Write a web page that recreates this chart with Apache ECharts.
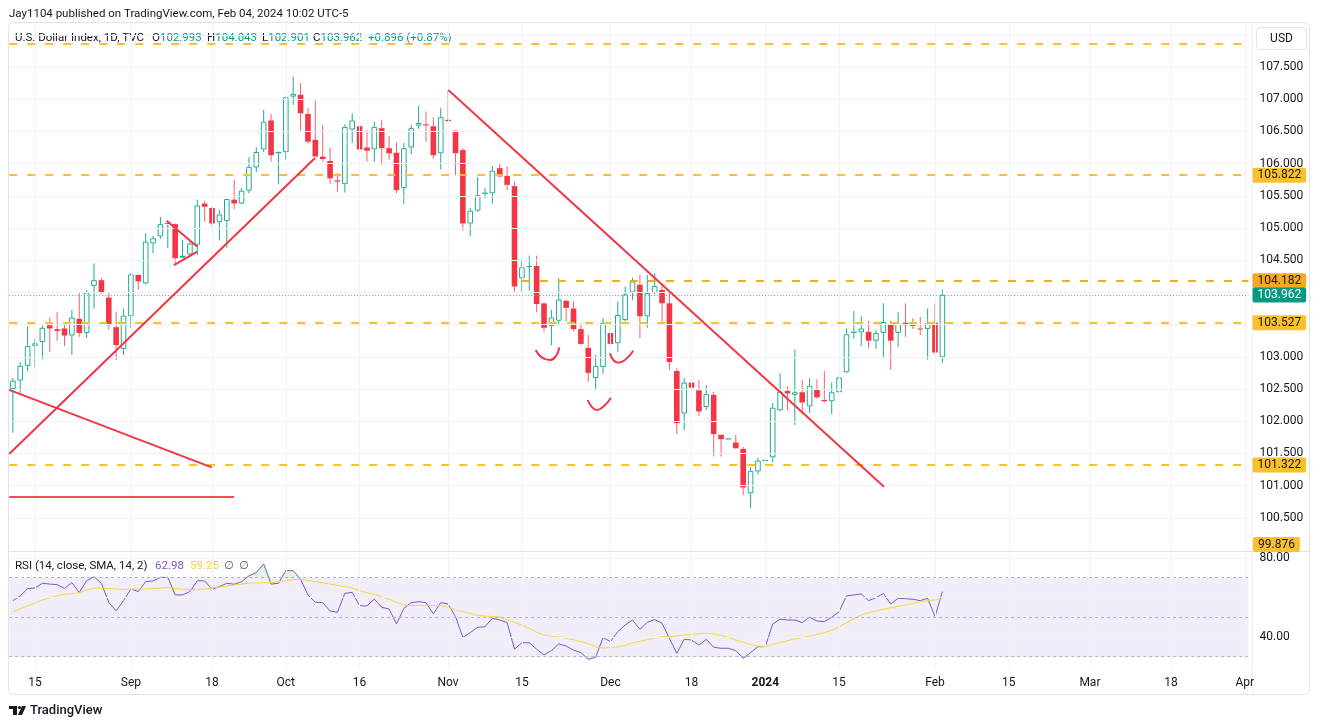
<!DOCTYPE html>
<html>
<head>
<meta charset="utf-8">
<script src="https://cdn.jsdelivr.net/npm/echarts@6/dist/echarts.min.js"></script>
<style>html,body{margin:0;padding:0;background:#fff}#c{width:1320px;height:725px}</style>
</head>
<body>
<div id="c"></div>
<script>
// ---------------- DATA ----------------
// daily candles, consecutive weekdays starting 2023-08-10 (last = 2024-02-02)
const firstDate = '2023-08-10';
const lastCalendarDate = '2024-04-01';
const opens = [
102.50,102.63,102.86,103.17,103.23,103.49,103.40,103.44,103.33,103.59,
103.37,104.10,104.19,103.92,103.46,103.12,103.63,104.27,104.14,104.76,
104.87,105.05,105.06,104.57,104.59,104.74,105.38,105.31,105.09,105.11,
105.44,105.38,105.58,105.94,106.22,106.67,106.18,106.18,107.04,107.07,
106.77,106.37,106.11,106.04,105.74,105.68,106.53,106.58,106.25,106.22,
106.55,106.24,106.17,105.62,106.25,106.59,106.58,106.58,106.16,106.66,
106.51,106.21,105.07,105.27,105.55,105.54,105.93,105.81,105.65,104.22,
104.41,104.41,103.83,103.48,103.56,103.87,103.75,103.43,103.14,102.67,
102.84,103.37,103.21,103.57,104.00,104.12,103.63,103.99,104.04,103.83,
102.78,102.12,102.60,102.48,102.22,102.41,101.79,101.725,101.67,101.57,
100.88,101.22,101.39,101.44,102.17,102.47,102.41,102.45,102.23,102.50,
102.33,102.31,102.45,102.76,103.39,103.38,103.39,103.25,103.37,103.51,
103.37,103.53,103.50,103.44,103.43,103.53,102.993];
const highs = [
102.67,102.92,103.47,103.28,103.49,103.61,103.69,103.52,103.73,103.99,
104.04,104.45,104.22,103.99,103.70,103.75,104.30,104.28,104.92,104.88,
105.17,105.08,105.07,104.81,104.81,105.44,105.42,105.33,105.28,105.45,
105.75,105.62,106.10,106.25,106.83,106.77,106.19,107.03,107.35,107.25,
106.86,106.98,106.60,106.25,105.85,106.61,106.78,106.63,106.52,106.65,
106.68,106.43,106.33,106.32,106.60,106.90,106.81,106.72,106.86,107.14,
106.52,106.24,105.31,105.79,105.62,105.96,106.00,105.96,105.72,104.51,
104.57,104.57,103.84,103.73,104.22,103.88,103.86,103.52,103.34,103.03,
103.60,103.74,103.86,104.09,104.23,104.27,104.27,104.30,104.12,103.99,
102.82,102.67,102.63,102.64,102.56,102.46,101.79,101.725,101.79,101.60,
101.29,101.43,101.39,102.28,102.74,102.54,103.11,102.64,102.67,102.65,
102.78,102.60,102.69,103.44,103.71,103.63,103.56,103.41,103.83,103.56,
103.69,103.83,103.60,103.62,103.75,103.83,104.043];
const lows = [
101.82,102.44,102.78,102.84,102.96,103.08,103.25,103.17,103.03,103.31,
103.29,103.75,103.98,103.42,102.95,103.03,103.45,104.04,104.12,104.61,
104.83,104.69,104.43,104.53,104.55,104.58,105.10,105.02,104.81,104.69,
105.29,105.37,105.54,105.87,106.18,106.03,105.68,106.06,106.91,106.51,
106.31,106.10,106.03,105.68,105.56,105.55,106.32,106.20,106.03,106.03,
105.98,106.06,105.54,105.37,106.15,106.54,106.34,106.08,105.91,106.64,
105.82,104.96,104.87,105.25,105.46,105.38,105.79,105.59,104.01,104.00,
104.03,103.69,103.39,103.18,103.49,103.55,103.40,103.19,102.61,102.48,
102.74,103.10,103.08,103.55,103.88,103.29,103.45,103.97,103.52,102.80,
101.80,101.86,102.39,102.08,102.17,101.45,101.45,101.725,101.57,100.85,
100.65,101.17,101.39,101.36,102.15,102.17,101.94,102.10,102.13,102.35,
102.29,102.11,102.43,102.75,103.28,103.17,103.13,103.12,103.00,102.80,
103.15,103.31,103.43,103.34,102.96,103.04,102.901];
const closes = [
102.63,102.86,103.17,103.21,103.45,103.44,103.43,103.33,103.61,103.37,
104.00,104.19,103.99,103.49,103.18,103.64,104.28,104.17,104.79,104.84,
105.06,105.07,104.53,104.54,104.76,105.35,105.33,105.07,105.21,105.45,
105.38,105.58,105.95,106.18,106.65,106.13,106.16,107.03,107.08,106.78,
106.34,106.11,106.07,105.77,105.72,106.57,106.67,106.22,106.20,106.57,
106.24,106.16,105.59,106.24,106.55,106.63,106.60,106.13,106.72,106.67,
106.16,105.07,105.27,105.51,105.53,105.89,105.80,105.67,104.09,104.39,
104.40,103.82,103.45,103.61,103.89,103.76,103.43,103.20,102.75,102.86,
103.53,103.20,103.65,103.97,104.17,103.63,103.99,104.10,103.83,102.92,
101.97,102.60,102.52,102.15,102.42,101.80,101.72,101.725,101.58,100.97,
101.23,101.39,101.39,102.21,102.46,102.43,102.45,102.29,102.55,102.37,
102.31,102.45,102.68,103.35,103.37,103.44,103.25,103.37,103.54,103.25,
103.51,103.49,103.48,103.43,103.52,103.066,103.962];
const rsi = [
58.4,60.8,64.5,64.8,67.2,66.8,66.5,64.6,67.5,62.5,
68.5,70.5,67.2,57.5,53.2,58.4,64.3,63.0,68.0,68.4,
70.2,70.2,61.3,61.3,63.0,68.5,68.4,64.1,65.5,67.2,
66.7,68.0,71.0,72.6,77.0,66.8,67.2,73.6,73.6,69.2,
61.3,57.6,57.4,53.2,52.5,62.1,62.6,55.9,55.7,59.2,
55.0,54.2,46.6,54.5,57.4,57.9,57.4,51.7,57.4,56.7,
50.3,39.8,42.2,44.9,45.2,49.5,48.6,47.3,33.8,37.1,
37.1,33.8,30.9,33.1,36.5,35.4,33.4,32.1,28.7,29.7,
39.8,37.6,42.7,46.1,48.6,43.9,47.4,48.8,47.0,39.3,
31.7,38.8,38.5,35.9,38.8,34.8,34.3,34.3,33.1,29.2,
32.1,35.1,35.1,46.6,49.0,48.6,48.6,47.3,50.0,48.1,
47.8,50.0,52.8,60.8,61.3,61.8,58.4,59.9,62.1,56.7,
59.6,59.4,59.1,58.4,59.6,50.3,62.98];
const rsiSma = [
52.8,54.3,55.7,57.2,58.7,59.8,61.0,61.6,61.9,62.4,
63.8,64.7,64.8,64.6,64.3,64.1,64.2,64.3,64.3,64.5,
64.8,65.0,64.6,64.2,64.0,63.9,64.3,64.9,65.2,65.8,
66.3,66.8,67.2,67.4,67.5,67.5,68.0,68.5,69.1,69.2,
68.7,68.1,67.4,66.8,66.1,65.5,64.8,63.5,62.4,61.6,
60.3,59.1,57.6,56.2,56.0,55.9,55.9,55.9,55.9,55.0,
53.9,52.8,51.9,50.9,50.6,50.4,50.3,48.6,47.5,46.0,
44.5,42.4,41.0,40.4,39.9,39.3,38.6,37.6,36.6,35.1,
34.4,34.6,35.0,35.8,37.0,37.8,38.6,39.4,40.2,40.2,
40.5,40.9,41.4,41.7,41.9,41.6,40.8,39.8,38.5,37.3,
36.2,35.4,35.1,36.3,37.2,38.1,39.0,39.7,40.4,41.2,
42.2,43.4,45.1,47.3,49.2,51.1,52.3,53.2,54.0,54.8,
55.5,56.2,56.9,57.9,58.4,58.8,59.25];

// time-axis tick labels (date -> text)
const timeTicks = [
['2023-08-15','15'],['2023-09-01','Sep'],['2023-09-18','18'],['2023-10-02','Oct'],
['2023-10-16','16'],['2023-11-01','Nov'],['2023-11-15','15'],['2023-12-01','Dec'],
['2023-12-18','18'],['2024-01-01','2024'],['2024-01-15','15'],['2024-02-01','Feb'],
['2024-02-15','15'],['2024-03-01','Mar'],['2024-03-18','18'],['2024-04-01','Apr']];
const priceTicks = [100.5,101,101.5,102,102.5,103,103.5,104,104.5,105,105.5,106,106.5,107,107.5];
const priceGridLines = [100.5,101,101.5,102,102.5,103,103.5,104,104.5,105,105.5,106,106.5,107,107.5,108];
const rsiTicks = [40, 80];
const rsiGridLines = [40, 60, 80];
const rsiBands = [30, 50, 70];

// horizontal levels drawn by the author
const yellowLevels = [107.857, 105.822, 103.527, 101.322];
const orangeLevel = {fromDate:'2023-11-15', value:104.182};
const offscreenLevel = 99.876;

// trend lines: [calendar index (fractional), price]
const trendLines = [
  [[-0.5, 101.49], [40.96, 106.087]],
  [[-0.5, 102.487], [26.95, 101.284]],
  [[-0.5, 100.823], [29.98, 100.823]],
  [[59.03, 107.143], [118.09, 100.983]],
  [[20.85, 105.114], [25.0, 104.71]],
  [[21.84, 104.425], [25.0, 104.632]]
];
const arcs = [
  [[70.87,103.106],[71.68,102.992],[72.81,102.95],[73.62,103.012],[74.07,103.148]],
  [[77.92,102.329],[78.46,102.225],[79.14,102.174],[80.03,102.225],[81.08,102.365]],
  [[80.94,103.054],[81.39,102.95],[82.07,102.908],[82.98,102.95],[84.1,103.095]]
];

// ---------------- BUILD ----------------
const FONT = 'Roboto, "Noto Sans", "DejaVu Sans", sans-serif';
const TEXT = '#131722';
const UP = '#22ab94', DOWN = '#f23645', DOWN_WICK = '#f5606c';
const YEL = '#fbc02d', ORG = '#f9a825', TEAL = '#089981';
const GRIDC = '#f0f2f5';
const HF = '11.5px ' + FONT;

const calendar = [];
(function(){
  const s = new Date(firstDate + 'T00:00:00Z').getTime();
  const e = new Date(lastCalendarDate + 'T00:00:00Z').getTime();
  for (let t = s; t <= e; t += 86400000) {
    const d = new Date(t); const wd = d.getUTCDay();
    if (wd !== 0 && wd !== 6) calendar.push(d.toISOString().slice(0,10));
  }
})();
const tickMap = new Map(timeTicks);
const tickIdx = timeTicks.map(t => calendar.indexOf(t[0]));

const candleData = opens.map((o, i) => [i, o, closes[i], lows[i], highs[i], i > 0 ? closes[i-1] : o]);
const n = closes.length;
const lastO = opens[n-1], lastH = highs[n-1], lastL = lows[n-1], lastC = closes[n-1], prevC = closes[n-2];
const chg = lastC - prevC, chgPct = chg / prevC * 100;

function renderCandle(params, api) {
  const idx = api.value(0);
  const o = api.value(1), c = api.value(2), l = api.value(3), h = api.value(4), pc = api.value(5);
  const pO = api.coord([idx, o]), pC = api.coord([idx, c]);
  const yH = api.coord([idx, h])[1], yL = api.coord([idx, l])[1];
  const px = pO[0];
  const up = c >= pc;
  const col = up ? UP : DOWN;
  const wick = up ? UP : DOWN_WICK;
  const filled = c < o;
  const top = Math.min(pO[1], pC[1]), bot = Math.max(pO[1], pC[1]);
  const bw = 5.6;
  const ch = [];
  ch.push({type:'line', shape:{x1:px, y1:yH, x2:px, y2:top}, style:{stroke:wick, lineWidth:1}});
  ch.push({type:'line', shape:{x1:px, y1:bot, x2:px, y2:yL}, style:{stroke:wick, lineWidth:1}});
  if (filled) {
    ch.push({type:'rect', shape:{x:px-bw/2, y:top, width:bw, height:Math.max(1, bot-top)}, style:{fill:col}});
  } else if (bot - top < 1.5) {
    ch.push({type:'line', shape:{x1:px-bw/2, y1:top, x2:px+bw/2, y2:top}, style:{stroke:col, lineWidth:1.2}});
  } else {
    ch.push({type:'rect', shape:{x:px-bw/2+0.5, y:top+0.5, width:bw-1, height:bot-top-1}, style:{fill:'#ffffff', stroke:col, lineWidth:1}});
  }
  return {type:'group', children: ch};
}

function levelLabel(txt, bg, fg) {
  return {show:true, position:'end', distance:4, formatter: txt, backgroundColor: bg, color: fg,
          padding:[2,5,1,5], borderRadius:2, fontSize:12, fontFamily:FONT};
}
const dashY = {color: YEL, width: 2, type: [8, 10]};
const levelMarks = yellowLevels.map((v, i) => ({
  yAxis: v, lineStyle: dashY,
  label: i === 0 ? {show:false} : levelLabel(v.toFixed(3), YEL, TEXT)
}));
const orgIdx = calendar.indexOf(orangeLevel.fromDate);
levelMarks.push([
  {coord:[orgIdx, orangeLevel.value], lineStyle:{color: ORG, width:2, type:[8,10]},
   label: levelLabel(orangeLevel.value.toFixed(3), ORG, TEXT)},
  {coord:[167.5, orangeLevel.value]}
]);
levelMarks.push({yAxis: lastC, lineStyle:{color: '#3fb8a2', width:1, type:[1,2]}, label: levelLabel(lastC.toFixed(3), TEAL, '#ffffff')});

const series = [];
// grid lines main pane
series.push({type:'line', xAxisIndex:1, yAxisIndex:0, data:[[-5,0]], showSymbol:false, silent:true, z:0, clip:false,
  markLine:{silent:true, symbol:['none','none'], animation:false, label:{show:false},
    lineStyle:{color:GRIDC, width:1, type:'solid'},
    data: tickIdx.map(i => ({xAxis:i})).concat(priceGridLines.map(v => ({yAxis:v})))}});
// grid lines rsi pane
series.push({type:'line', xAxisIndex:3, yAxisIndex:1, data:[[-5,0]], showSymbol:false, silent:true, z:0, clip:false,
  markLine:{silent:true, symbol:['none','none'], animation:false, label:{show:false},
    lineStyle:{color:GRIDC, width:1, type:'solid'},
    data: tickIdx.map(i => ({xAxis:i})).concat(rsiGridLines.map(v => ({yAxis:v})))}});
// candles
series.push({type:'custom', name:'DXY', xAxisIndex:0, yAxisIndex:0, data:candleData, renderItem:renderCandle,
  encode:{x:0, y:[1,2,3,4]}, z:2, clip:true, silent:true});
// levels
series.push({type:'line', xAxisIndex:1, yAxisIndex:0, data:[[-5,0]], showSymbol:false, silent:true, z:4, clip:false,
  markLine:{silent:true, symbol:['none','none'], animation:false, data: levelMarks}});
// trend lines
trendLines.forEach((seg, i) => series.push({type:'line', xAxisIndex:1, yAxisIndex:0, data:seg, showSymbol:false, silent:true, z:5,
  lineStyle:{color: i === 2 ? '#f04b59' : DOWN, width:2}}));
arcs.forEach(a => series.push({type:'line', xAxisIndex:1, yAxisIndex:0, data:a, smooth:true, showSymbol:false, silent:true, z:5,
  lineStyle:{color:DOWN, width:2}}));
// RSI overbought / oversold fills (from the RSI values)
series.push({type:'line', xAxisIndex:2, yAxisIndex:1, data:rsi.map(v => Math.max(v, rsiBands[2])), showSymbol:false, silent:true, z:2,
  lineStyle:{width:0, opacity:0}, areaStyle:{origin:rsiBands[2], color:'rgba(76,175,80,0.22)'}});
series.push({type:'line', xAxisIndex:2, yAxisIndex:1, data:rsi.map(v => Math.min(v, rsiBands[0])), showSymbol:false, silent:true, z:2,
  lineStyle:{width:0, opacity:0}, areaStyle:{origin:rsiBands[0], color:'rgba(242,54,69,0.18)'}});
// RSI
series.push({type:'line', name:'RSI', xAxisIndex:2, yAxisIndex:1, data:rsi, showSymbol:false, silent:true, z:3, clip:false,
  lineStyle:{color:'#7e57c2', width:1},
  markArea:{silent:true, itemStyle:{color:'rgba(126,87,194,0.1)'}, data:[[{yAxis:rsiBands[0]},{yAxis:rsiBands[2]}]]},
  markLine:{silent:true, symbol:['none','none'], animation:false,
    data: rsiBands.map(v => ({yAxis:v, lineStyle:{color:'#b2b5be', width:1, type:[3,3]}, label:{show:false}})).concat([
      {yAxis: rsi[n-1], lineStyle:{opacity:0}, label: levelLabel(rsi[n-1].toFixed(2), '#7e57c2', '#ffffff')}
    ])}});
series.push({type:'line', name:'RSI-based MA', xAxisIndex:2, yAxisIndex:1, data:rsiSma, showSymbol:false, silent:true, z:3, clip:false,
  lineStyle:{color:'#f7d73c', width:1},
  markLine:{silent:true, symbol:['none','none'], animation:false,
    data:[{yAxis: rsiSma[n-1], lineStyle:{opacity:0}, label: Object.assign(levelLabel(rsiSma[n-1].toFixed(2), '#fdeb3d', TEXT), {offset:[0,7]})}]}});

const hdrY = 38;
const rich = {d:{fill:TEXT, font:HF}, g:{fill:TEAL, font:HF}};
const graphic = [
  {type:'rect', silent:true, z:-10, shape:{x:8.5, y:22.5, width:1301, height:672, r:5}, style:{fill:null, stroke:'#e0e3eb', lineWidth:1}},
  {type:'line', silent:true, shape:{x1:8, y1:551.5, x2:1310, y2:551.5}, style:{stroke:'#e0e3eb', lineWidth:1}},
  {type:'line', silent:true, z:-10, shape:{x1:1252.5, y1:23, x2:1252.5, y2:694}, style:{stroke:'#eceef2', lineWidth:1}},
  {type:'text', silent:true, style:{x:9, y:14, text:'Jay1104 published on TradingView.com, Feb 04, 2024 10:02 UTC-5', font:HF, fill:TEXT, verticalAlign:'middle'}},
  {type:'text', silent:true, style:{x:15, y:hdrY, text:'U.S. Dollar Index, 1D, TVC', font:HF, fill:TEXT, verticalAlign:'middle'}},
  {type:'text', silent:true, style:{x:152, y:hdrY, text:'{d|O}{g|' + lastO.toFixed(3) + '}', font:HF, verticalAlign:'middle', rich:rich}},
  {type:'text', silent:true, style:{x:207, y:hdrY, text:'{d|H}{g|' + lastH.toFixed(3) + '}', font:HF, verticalAlign:'middle', rich:rich}},
  {type:'text', silent:true, style:{x:262, y:hdrY, text:'{d|L}{g|' + lastL.toFixed(3) + '}', font:HF, verticalAlign:'middle', rich:rich}},
  {type:'text', silent:true, style:{x:313, y:hdrY, text:'{d|C}{g|' + lastC.toFixed(3) + '}', font:HF, verticalAlign:'middle', rich:rich}},
  {type:'text', silent:true, style:{x:368, y:hdrY, text:(chg >= 0 ? '+' : '') + chg.toFixed(3) + ' (' + (chg >= 0 ? '+' : '') + chgPct.toFixed(2) + '%)', font:HF, fill:TEAL, verticalAlign:'middle'}},
  {type:'rect', silent:true, shape:{x:1256.5, y:27.5, width:50, height:22, r:4}, style:{fill:'#ffffff', stroke:'#e0e3eb', lineWidth:1}},
  {type:'text', silent:true, style:{x:1281.5, y:39, text:'USD', font:'12px ' + FONT, fill:TEXT, align:'center', verticalAlign:'middle'}},
  {type:'text', silent:true, z:10, style:{x:1253, y:544.5, text:offscreenLevel.toFixed(3), font:'12px ' + FONT, fill:TEXT, verticalAlign:'middle', backgroundColor:YEL, padding:[2,5,1,5], borderRadius:2}},
  {type:'text', silent:true, style:{x:15, y:566, text:'RSI (14, close, SMA, 14, 2)', font:HF, fill:TEXT, verticalAlign:'middle'}},
  {type:'text', silent:true, style:{x:155, y:566, text:rsi[n-1].toFixed(2), font:HF, fill:'#7e57c2', verticalAlign:'middle'}},
  {type:'text', silent:true, style:{x:190, y:566, text:rsiSma[n-1].toFixed(2), font:HF, fill:'#f2d43b', verticalAlign:'middle'}},
  {type:'text', silent:true, style:{x:224, y:566, text:'\u2205', font:HF, fill:'#5d606b', verticalAlign:'middle'}},
  {type:'text', silent:true, style:{x:239, y:566, text:'\u2205', font:HF, fill:'#5d606b', verticalAlign:'middle'}},
  // TradingView logo
  {type:'polygon', silent:true, shape:{points:[[9,706],[17,706],[17,715],[13,715],[13,709],[9,709]]}, style:{fill:TEXT}},
  {type:'circle', silent:true, shape:{cx:19.5, cy:707.5, r:1.6}, style:{fill:TEXT}},
  {type:'polygon', silent:true, shape:{points:[[22,706],[26,706],[22,715],[18,715]]}, style:{fill:TEXT}},
  {type:'text', silent:true, style:{x:30, y:711, text:'TradingView', font:'500 13px ' + FONT, fill:TEXT, verticalAlign:'middle'}}
];

const option = {
  animation: false,
  backgroundColor: '#ffffff',
  textStyle: {fontFamily: FONT},
  grid: [
    {left: 9.18, top: 25, width: 1239.34, height: 526, outerBoundsMode: 'none', containLabel: false},
    {left: 9.18, top: 552, width: 1239.34, height: 114, outerBoundsMode: 'none', containLabel: false}
  ],
  xAxis: [
    {type:'category', gridIndex:0, data:calendar, boundaryGap:true, axisLine:{show:false}, axisTick:{show:false}, axisLabel:{show:false}, splitLine:{show:false}},
    {type:'value', gridIndex:0, min:-0.5, max:167.5, show:false},
    {type:'category', gridIndex:1, data:calendar, boundaryGap:true, axisLine:{show:false}, axisTick:{show:false}, splitLine:{show:false},
      axisLabel:{interval:(i, v) => tickMap.has(v), hideOverlap:false,
        formatter: v => tickMap.get(v) === '2024' ? '{b|2024}' : (tickMap.get(v) || ''),
        color:TEXT, fontSize:12, fontFamily:FONT, margin:11,
        rich:{b:{fontWeight:'bold', fontSize:12, color:TEXT, fontFamily:FONT}}}},
    {type:'value', gridIndex:1, min:-0.5, max:167.5, show:false}
  ],
  yAxis: [
    {type:'value', gridIndex:0, position:'right', min:99.9845, max:108.1522,
      axisLine:{show:false}, axisTick:{show:false, customValues:priceTicks}, splitLine:{show:false},
      axisLabel:{customValues:priceTicks, formatter: v => v.toFixed(3), color:TEXT, fontSize:12, fontFamily:FONT, margin:11}},
    {type:'value', gridIndex:1, position:'right', min:25.316, max:83.038,
      axisLine:{show:false}, axisTick:{show:false, customValues:rsiTicks}, splitLine:{show:false},
      axisLabel:{customValues:rsiTicks, formatter: v => v.toFixed(2), color:TEXT, fontSize:12, fontFamily:FONT, margin:11}}
  ],
  graphic: graphic,
  series: series
};
const chart = echarts.init(document.getElementById('c'), null, {renderer:'canvas'});
chart.setOption(option);
</script>
</body>
</html>
